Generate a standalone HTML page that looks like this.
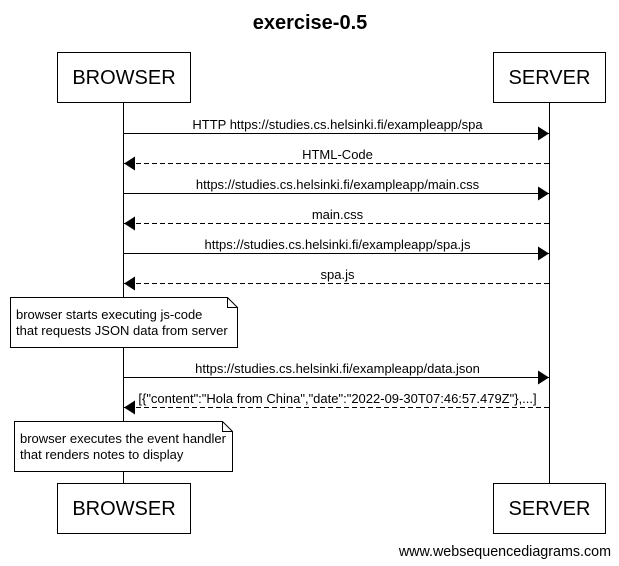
<!DOCTYPE html>
<html><head><style>html,body{margin:0;padding:0;background:#fff}svg{display:block}</style></head><body>
<svg width="619" height="566" xmlns="http://www.w3.org/2000/svg" font-family="Liberation Sans, sans-serif">
<defs>
<marker id="a" markerWidth="11" markerHeight="14" refX="11" refY="7" orient="auto" markerUnits="userSpaceOnUse"><path d="M0,0 L11,7 L0,14 z" fill="#000"/></marker>
</defs>
<text x="310" y="29" text-anchor="middle" font-size="20" font-weight="bold">exercise-0.5</text>
<line x1="123.5" y1="102" x2="123.5" y2="483" stroke="#000"/>
<line x1="549.5" y1="102" x2="549.5" y2="483" stroke="#000"/>
<g fill="#fff" stroke="#000">
<rect x="57.5" y="52.5" width="133" height="50"/>
<rect x="493.5" y="52.5" width="112" height="50"/>
<rect x="57.5" y="483.5" width="133" height="50"/>
<rect x="493.5" y="483.5" width="112" height="50"/>
</g>
<g font-size="20" text-anchor="middle">
<text x="124" y="84">BROWSER</text><text x="549.5" y="84">SERVER</text>
<text x="124" y="515">BROWSER</text><text x="549.5" y="515">SERVER</text>
</g>
<g stroke="#000" fill="none">
<line x1="124" y1="133.5" x2="549" y2="133.5" marker-end="url(#a)"/>
<line x1="549" y1="163.5" x2="124" y2="163.5" stroke-dasharray="5,3" marker-end="url(#a)"/>
<line x1="124" y1="193.5" x2="549" y2="193.5" marker-end="url(#a)"/>
<line x1="549" y1="223.5" x2="124" y2="223.5" stroke-dasharray="5,3" marker-end="url(#a)"/>
<line x1="124" y1="253.5" x2="549" y2="253.5" marker-end="url(#a)"/>
<line x1="549" y1="283.5" x2="124" y2="283.5" stroke-dasharray="5,3" marker-end="url(#a)"/>
<line x1="124" y1="377.5" x2="549" y2="377.5" marker-end="url(#a)"/>
<line x1="549" y1="407.5" x2="124" y2="407.5" stroke-dasharray="5,3" marker-end="url(#a)"/>
</g>
<g font-size="13" text-anchor="middle">
<text x="337.5" y="129">HTTP https://studies.cs.helsinki.fi/exampleapp/spa</text>
<text x="337.5" y="159">HTML-Code</text>
<text x="337.5" y="189">https://studies.cs.helsinki.fi/exampleapp/main.css</text>
<text x="337.5" y="219">main.css</text>
<text x="337.5" y="249">https://studies.cs.helsinki.fi/exampleapp/spa.js</text>
<text x="337.5" y="279">spa.js</text>
<text x="337.5" y="373">https://studies.cs.helsinki.fi/exampleapp/data.json</text>
<text x="337.5" y="403">[{"content":"Hola from China","date":"2022-09-30T07:46:57.479Z"},...]</text>
</g>
<g fill="#fff" stroke="#000">
<path d="M10.5,297.5 H227.5 L237.5,307.5 V347.5 H10.5 z"/>
<path d="M227.5,297.5 V307.5 H237.5" fill="none"/>
<path d="M14.5,421.5 H222.5 L232.5,431.5 V471.5 H14.5 z"/>
<path d="M222.5,421.5 V431.5 H232.5" fill="none"/>
</g>
<g font-size="13">
<text x="16" y="319">browser starts executing js-code</text>
<text x="16" y="335">that requests JSON data from server</text>
<text x="20" y="443">browser executes the event handler</text>
<text x="20" y="459">that renders notes to display</text>
</g>
<text x="611" y="556" text-anchor="end" font-size="14.3">www.websequencediagrams.com</text>
</svg>
</body></html>
